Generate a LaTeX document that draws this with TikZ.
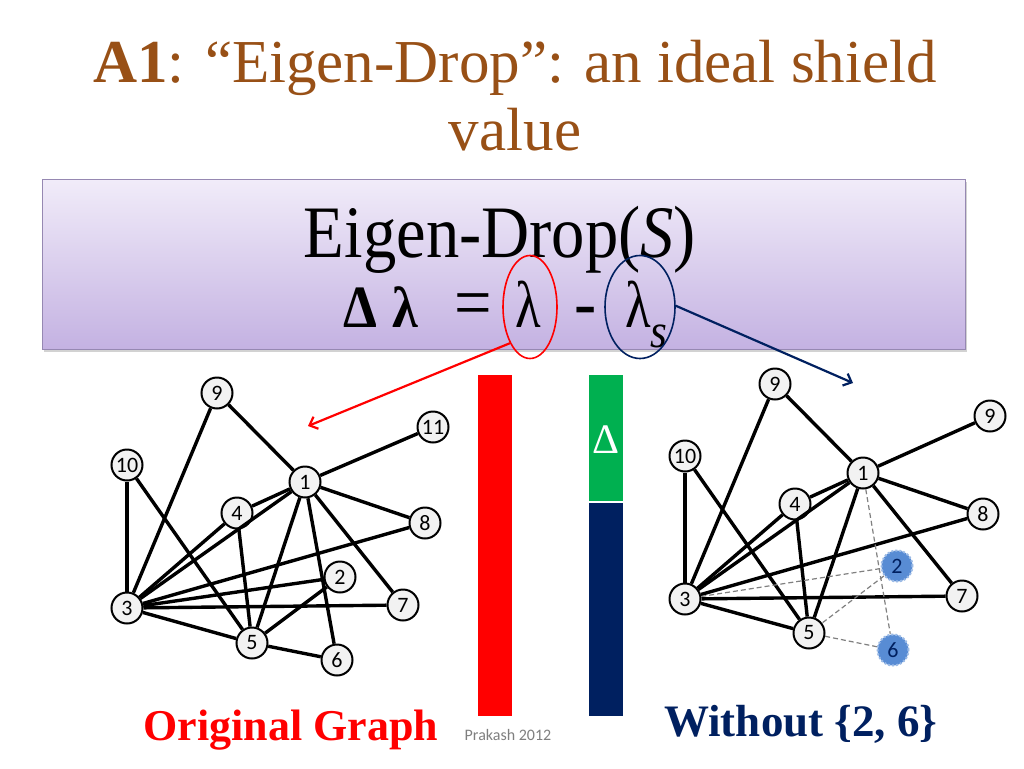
\documentclass[tikz,border=0pt]{standalone}
\usepackage{fontspec}
\setmainfont{Liberation Serif}
\newfontfamily\carl{Carlito}
\newfontfamily\boxfont[FakeStretch=0.9]{Liberation Serif}
\newfontfamily\lamfont[FakeStretch=0.8]{Liberation Serif}
\usetikzlibrary{arrows.meta,shadows,shapes.geometric}
\definecolor{titlebrown}{RGB}{152,80,22}
\definecolor{navy}{RGB}{0,32,96}
\definecolor{pgreen}{RGB}{0,176,80}
\definecolor{boxtop}{RGB}{241,236,249}
\definecolor{boxbot}{RGB}{196,178,226}
\definecolor{boxedge}{RGB}{150,136,178}
\definecolor{nodefill}{RGB}{242,242,242}
\definecolor{bluenode}{RGB}{88,140,212}
\definecolor{prakgray}{RGB}{127,127,127}
\tikzset{
  gnode/.style={circle, draw, line width=2pt, fill=nodefill, minimum size=31pt, inner sep=0pt, font=\carl\fontsize{22}{22}\selectfont},
  bnode/.style={gnode, fill=bluenode, draw=bluenode!60!white, dotted, text=navy},
  link/.style={line width=3.4pt},
  gone/.style={draw=gray, line width=1.2pt, dash pattern=on 5pt off 3pt},
  boxtxt/.style={anchor=base, inner sep=0pt, font=\boxfont\fontsize{74}{74}\selectfont},
  ptr/.style={line width=2.2pt, -{Straight Barb[length=7pt,width=13pt,line width=2.2pt]}},
}
\begin{document}
\begin{tikzpicture}[x=1pt,y=-1pt]
\fill[white] (0,0) rectangle (1024,768);
\useasboundingbox (0,0) rectangle (1024,768);
% title
\node[anchor=base, text=titlebrown, font=\fontsize{61}{61}\selectfont] (title1) at (515,82) {\textbf{A1}: “Eigen-Drop”: an ideal shield};
\node[anchor=base, text=titlebrown, font=\fontsize{61}{61}\selectfont] (title2) at (515,150) {value};
% box
\path[draw=boxedge, line width=0.8pt, top color=boxtop, bottom color=boxbot,
  drop shadow={opacity=0.35, shadow xshift=2pt, shadow yshift=-3pt}] (42,179) rectangle (965,349);
\node[boxtxt] (eig) at (500,257) {Eigen-Drop(\textit{S})};
\node[boxtxt, font=\boxfont\bfseries\fontsize{60}{60}\selectfont] (dl) at (360,327) {Δ};
\node[boxtxt, font=\boxfont\bfseries\fontsize{58}{58}\selectfont] (bl) at (405,327) {λ};
\node[boxtxt] (eq) at (473,327) {=};
\node[boxtxt, font=\lamfont\fontsize{66}{66}\selectfont] (l1) at (528,327) {λ};
\node[boxtxt] (mn) at (586,327) {-};
\node[boxtxt, font=\lamfont\fontsize{66}{66}\selectfont] (l2) at (638,327) {λ};
\node[boxtxt, font=\boxfont\itshape\fontsize{48}{48}\selectfont] (sub) at (659,347) {s};
\node[ellipse, draw=red, line width=1.6pt, minimum width=54pt, minimum height=103pt, inner sep=0pt] (redell) at (530,307) {};
\node[ellipse, draw=navy, line width=1.6pt, minimum width=70pt, minimum height=103pt, inner sep=0pt] (blueell) at (640,307) {};
\coordinate (redtip) at (308,426);
\coordinate (bluetip) at (853,383);
\draw[ptr, red] (redell.241) -- (redtip);
\draw[ptr, navy] (blueell.2) -- (bluetip);
% bars
\fill[red] (478,375) rectangle (512,716);
\fill[pgreen] (589,375) rectangle (623,501);
\fill[navy] (589,503) rectangle (623,716);
\node[anchor=base, text=white, inner sep=0pt, font=\fontsize{42}{42}\selectfont] (dbar) at (606,453) {Δ};
% left graph
\node[gnode] (a9) at (217,393) {9};
\node[gnode] (a11) at (433,427) {11};
\node[gnode] (a10) at (127,465) {10};
\node[gnode] (a1) at (305,482) {1};
\node[gnode] (a4) at (237,513) {4};
\node[gnode] (a8) at (425,523) {8};
\node[gnode] (a2) at (340,577) {2};
\node[gnode] (a7) at (403,605) {7};
\node[gnode] (a3) at (127,608) {3};
\node[gnode] (a5) at (252,643) {5};
\node[gnode] (a6) at (337,660) {6};
\foreach \u/\v in {a9/a1,a9/a3,a10/a3,a10/a5,a1/a11,a1/a4,a1/a8,a1/a3,a1/a5,a1/a6,a1/a7,a4/a3,a4/a5,a8/a3,a2/a3,a2/a5,a7/a3,a3/a5,a5/a6}
  \draw[link] (\u) -- (\v);
% right graph
\begin{scope}[shift={(558,-9)}]
\node[gnode] (b9) at (217,393) {9};
\node[gnode] (b9r) at (432,425) {9};
\node[gnode] (b10) at (127,465) {10};
\node[gnode] (b1) at (305,482) {1};
\node[gnode] (b4) at (237,513) {4};
\node[gnode] (b8) at (425,523) {8};
\node[bnode] (b2) at (339,575) {2};
\node[gnode] (b7) at (404,605) {7};
\node[gnode] (b3) at (127,608) {3};
\node[gnode] (b5) at (251,642) {5};
\node[bnode] (b6) at (335,659) {6};
\end{scope}
\foreach \u/\v in {b9/b1,b9/b3,b10/b3,b10/b5,b1/b9r,b1/b4,b1/b8,b1/b3,b1/b5,b1/b7,b4/b3,b4/b5,b8/b3,b7/b3,b3/b5}
  \draw[link] (\u) -- (\v);
\foreach \u/\v in {b1/b6,b3/b2,b2/b5,b5/b6}
  \draw[gone] (\u) -- (\v);
% captions
\node[anchor=base, text=red, font=\bfseries\fontsize{44}{44}\selectfont] (orig) at (291,740) {Original Graph};
\node[anchor=base, text=prakgray, font=\carl\fontsize{16}{16}\selectfont] (prak) at (508,740) {Prakash 2012};
\node[anchor=base, text=navy, font=\bfseries\fontsize{45}{45}\selectfont] (without) at (801,736) {Without \{2, 6\}};
\end{tikzpicture}
\end{document}
